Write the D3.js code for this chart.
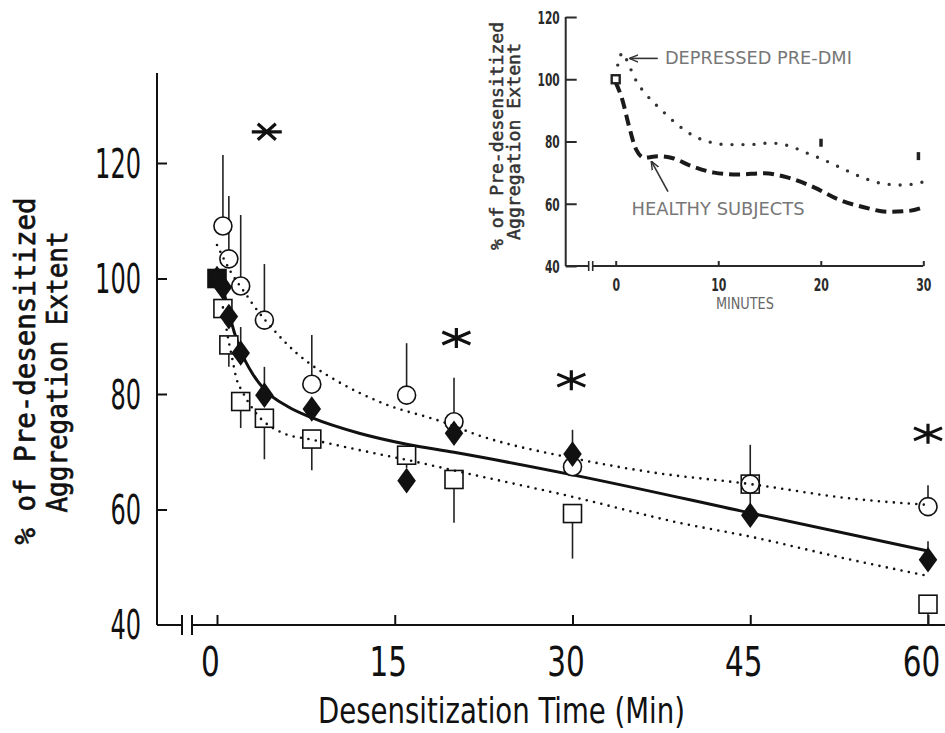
<!DOCTYPE html>
<html>
<head>
<meta charset="utf-8">
<script src="https://cdn.jsdelivr.net/npm/d3@7"></script>
<style>
  body { margin: 0; background: #fff; }
  svg { display: block; }
</style>
</head>
<body>
<svg id="chart" width="945" height="733"></svg>
<script>
// main chart data (minutes, % of pre-desensitized extent)
var circleT = [0.5, 1, 2, 4, 8, 16, 20, 30, 45, 60];
var circleV = [109.1, 103.4, 98.7, 92.8, 81.7, 79.8, 75.2, 67.4, 64.4, 60.5];
var circleHi = [121.4, 114.3, 111, 102.5, 90.2, 88.8, 82.8, 73.8, 71.2, 64.2];

var diamondT = [0, 0.5, 1, 2, 4, 8, 16, 20, 30, 45, 60];
var diamondV = [100, 98.5, 93.4, 87.1, 79.8, 77.4, 65.0, 73.2, 69.6, 59.0, 51.3];
var diamondHi = [null, null, null, 91.6, 84.7, null, null, null, null, null, 54.5];

var squareT = [0, 0.5, 1, 2, 4, 8, 16, 20, 30, 45, 60];
var squareV = [100, 94.8, 88.5, 78.7, 75.8, 72.2, 69.4, 65.2, 59.3, 64.4, 43.6];
var squareLo = [null, null, 84.7, 74.1, 68.7, 66.8, 67.2, 57.7, 51.5, 59.5, 40];

// fitted curves
var solidT = [0.5, 1, 2, 3, 4, 6, 8, 12, 16, 20, 30, 45, 60];
var solidV = [98.5, 94, 87.5, 83.5, 80.8, 77.8, 75.9, 73.2, 71.3, 69.9, 66, 59.4, 52.8];
var upperT = [0, 1.2, 2.5, 3, 5, 6.7, 8, 10, 14, 19, 22, 30, 36.5, 45, 53.5, 60];
var upperV = [105.8, 101, 97.1, 95.6, 90.6, 87.1, 85, 82.4, 78.4, 75.2, 72.9, 68.9, 66.5, 64.4, 61.9, 60.8];
var lowerT = [0.5, 1, 1.3, 1.6, 2.2, 3.1, 5.6, 8, 12, 16, 21, 30, 39, 45, 53.5, 60];
var lowerV = [95, 89, 86, 83, 80.2, 77.2, 73.2, 72.1, 70.3, 68.6, 66.3, 62.2, 57.7, 55.3, 51.3, 48.5];

// significance stars
var starT = [4.2, 20.2, 29.9, 60];
var starV = [125.4, 89.7, 82.4, 73.1];
var starKind = ["h", "v", "v", "v"];

var xTicks = [0, 15, 30, 45, 60];
var yTicks = [40, 60, 80, 100, 120];

// inset data
var depT = [0, 0.3, 0.7, 1.1, 1.5, 2, 3, 4.5, 6, 7.5, 9, 11, 13, 15, 17, 18.5, 20, 22, 24, 26, 28, 30];
var depV = [101, 106, 108.5, 106, 103, 99.5, 95, 90, 85.5, 82, 80, 79, 79, 79.5, 78.5, 76.5, 74.5, 71.5, 68.5, 66.5, 66, 67];
var healthyT = [0, 0.65, 1.3, 2, 2.8, 4.1, 5.4, 7.4, 9.6, 11.9, 14.5, 16.8, 19.4, 21.7, 24.3, 26.6, 28.6, 30.2];
var healthyV = [99, 93.4, 84.9, 77.4, 74.8, 75.3, 74.8, 72.1, 70, 69.4, 69.8, 68.4, 65.2, 61.4, 58.8, 57.4, 57.7, 59.1];
var insetMarkT = [20, 29.5];
var insetMarkV = [79.6, 75.3];
var insetXTicks = [0, 10, 20, 30];
var insetYTicks = [40, 60, 80, 100, 120];

var svg = d3.select("#chart");
var ink = "#111";

// scales
var x = d3.scaleLinear().domain([0, 60]).range([217, 928]);
var y = d3.scaleLinear().domain([40, 120]).range([625, 163]);
var ix = d3.scaleLinear().domain([0, 30]).range([615.7, 923.3]);
var iy = d3.scaleLinear().domain([40, 120]).range([266, 17]);

var narrow = "'Liberation Sans Narrow', 'DejaVu Sans Condensed', sans-serif";
var mono = "'DejaVu Sans Mono', monospace";

function zip(t, v) {
  return t.map((d, i) => ({ t: d, v: v[i] }));
}

// ---------- main axes ----------
var yAxisG = svg.append("g").attr("transform", `translate(${x(0) - 60},0)`);
yAxisG.call(d3.axisLeft(y).tickValues(yTicks.slice(1)).tickSizeInner(-10).tickSizeOuter(0).tickFormat(d3.format("d")));
yAxisG.select(".domain").remove();
yAxisG.selectAll(".tick line").attr("stroke", ink).attr("stroke-width", 2);
yAxisG.append("line")
  .attr("x1", 0).attr("x2", 0)
  .attr("y1", y(135.6)).attr("y2", y(40))
  .attr("stroke", ink).attr("stroke-width", 2);
// 40 label sits at the x axis
yAxisG.append("g").attr("class", "tick").attr("transform", `translate(0,${y(40)})`)
  .append("text").text("40");
yAxisG.selectAll(".tick text")
  .attr("x", -16).attr("dy", "0.35em")
  .attr("text-anchor", "end")
  .attr("fill", ink)
  .style("font-family", narrow).style("font-size", "41px")
  .attr("textLength", function () { return this.textContent.length * 15.3; })
  .attr("lengthAdjust", "spacingAndGlyphs");

var xAxisG = svg.append("g").attr("transform", `translate(0,${y(40)})`);
xAxisG.call(d3.axisBottom(x).tickValues(xTicks).tickSizeInner(-10).tickSizeOuter(0).tickFormat(d3.format("d")));
xAxisG.select(".domain").remove();
xAxisG.selectAll(".tick line").attr("stroke", ink).attr("stroke-width", 2);
// labels squeezed horizontally to match the narrow lettering
xAxisG.selectAll(".tick text")
  .attr("y", 51).attr("dy", 0).attr("x", -7 / 0.8)
  .attr("transform", "scale(0.8,1)")
  .attr("fill", ink)
  .style("font-family", narrow).style("font-size", "41px");
// axis line with break
var axisX0 = x(0) - 60;
xAxisG.append("line").attr("x1", axisX0).attr("x2", axisX0 + 25).attr("y1", 0).attr("y2", 0)
  .attr("stroke", ink).attr("stroke-width", 2);
xAxisG.append("line").attr("x1", axisX0 + 35).attr("x2", 945).attr("y1", 0).attr("y2", 0)
  .attr("stroke", ink).attr("stroke-width", 2);
[25, 35].forEach((dx) => {
  xAxisG.append("line").attr("x1", axisX0 + dx).attr("x2", axisX0 + dx)
    .attr("y1", -10).attr("y2", 10).attr("stroke", ink).attr("stroke-width", 2);
});

// axis titles
svg.append("text")
  .attr("x", 318).attr("y", 723)
  .attr("textLength", 367).attr("lengthAdjust", "spacingAndGlyphs")
  .style("font-family", narrow).style("font-size", "36px").attr("fill", ink)
  .text("Desensitization Time (Min)");

var yTitle = [
  { text: "% of Pre-desensitized", x: 35, cy: 371, len: 347 },
  { text: "Aggregation Extent", x: 67, cy: 372, len: 281 },
];
svg.selectAll(".ytitle").data(yTitle).enter().append("text")
  .attr("class", "ytitle")
  .attr("transform", (d) => `translate(${d.x},${d.cy}) rotate(-90)`)
  .attr("text-anchor", "middle")
  .attr("textLength", (d) => d.len).attr("lengthAdjust", "spacingAndGlyphs")
  .style("font-family", mono).style("font-size", "28px")
  .attr("fill", ink).attr("stroke", ink).attr("stroke-width", 0.7)
  .text((d) => d.text);

// ---------- main marks ----------
var errG = svg.append("g").attr("stroke", "#222").attr("stroke-width", 1.6);
errG.selectAll(".ec").data(zip(circleT, circleV).map((d, i) => ({ t: d.t, v: d.v, e: circleHi[i] })))
  .enter().append("line")
  .attr("x1", (d) => x(d.t)).attr("x2", (d) => x(d.t))
  .attr("y1", (d) => y(d.v) - 9).attr("y2", (d) => y(d.e));
errG.selectAll(".es").data(zip(squareT, squareV).map((d, i) => ({ t: d.t, v: d.v, e: squareLo[i] })).filter((d) => d.e != null))
  .enter().append("line")
  .attr("x1", (d) => x(d.t)).attr("x2", (d) => x(d.t))
  .attr("y1", (d) => y(d.v) + 9).attr("y2", (d) => y(d.e));
errG.selectAll(".ed").data(zip(diamondT, diamondV).map((d, i) => ({ t: d.t, v: d.v, e: diamondHi[i] })).filter((d) => d.e != null))
  .enter().append("line")
  .attr("x1", (d) => x(d.t)).attr("x2", (d) => x(d.t))
  .attr("y1", (d) => y(d.v)).attr("y2", (d) => y(d.e));

var line = d3.line().x((d) => x(d.t)).y((d) => y(d.v)).curve(d3.curveMonotoneX);

svg.append("path").datum(zip(solidT, solidV))
  .attr("d", line).attr("fill", "none").attr("stroke", ink).attr("stroke-width", 3);

svg.selectAll(".sq").data(zip(squareT, squareV)).enter().append("rect")
  .attr("x", (d) => x(d.t) - 9).attr("y", (d) => y(d.v) - 9)
  .attr("width", 18).attr("height", 18)
  .attr("fill", (d, i) => (i == 0 ? ink : "#fff"))
  .attr("stroke", ink).attr("stroke-width", 1.6);

svg.selectAll(".ci").data(zip(circleT, circleV)).enter().append("circle")
  .attr("cx", (d) => x(d.t)).attr("cy", (d) => y(d.v)).attr("r", 9)
  .attr("fill", "#fff").attr("stroke", ink).attr("stroke-width", 1.6);

[zip(upperT, upperV), zip(lowerT, lowerV)].forEach((pts) => {
  svg.append("path").datum(pts)
    .attr("d", line).attr("fill", "none").attr("stroke", ink)
    .attr("stroke-width", 2.6).attr("stroke-linecap", "round")
    .attr("stroke-dasharray", "0,7.5");
});

var diamond = d3.symbol().type(d3.symbolDiamond).size(190);
svg.selectAll(".di").data(zip(diamondT, diamondV)).enter().append("path")
  .attr("d", diamond)
  .attr("transform", (d) => `translate(${x(d.t)},${y(d.v)}) scale(1.25,1)`)
  .attr("fill", ink);

// stars
function starPath(kind) {
  var p = d3.path();
  if (kind == "h") {
    p.moveTo(-15, 0); p.lineTo(15, 0);
    p.moveTo(-9, -8); p.lineTo(9, 8);
    p.moveTo(-9, 8); p.lineTo(9, -8);
  } else {
    p.moveTo(0, -10); p.lineTo(0, 10);
    p.moveTo(-14, -6); p.lineTo(14, 6);
    p.moveTo(-14, 6); p.lineTo(14, -6);
  }
  return p.toString();
}
svg.selectAll(".star").data(starT.map((t, i) => ({ t: t, v: starV[i], k: starKind[i] })))
  .enter().append("path")
  .attr("d", (d) => starPath(d.k))
  .attr("transform", (d) => `translate(${x(d.t)},${y(d.v)})`)
  .attr("stroke", ink).attr("stroke-width", 3.2).attr("fill", "none");

// ---------- inset ----------
var inset = svg.append("g");
var insetInk = "#2a2a2a";
var insetAxisX = ix(0) - 50;

var iyG = inset.append("g").attr("transform", `translate(${insetAxisX},0)`);
iyG.call(d3.axisLeft(iy).tickValues(insetYTicks).tickSizeInner(-11).tickSizeOuter(0).tickFormat(d3.format("d")));
iyG.select(".domain").remove();
iyG.selectAll(".tick line").attr("stroke", insetInk).attr("stroke-width", 2);
iyG.append("line").attr("x1", 0).attr("x2", 0).attr("y1", iy(120)).attr("y2", iy(40))
  .attr("stroke", insetInk).attr("stroke-width", 2);
iyG.selectAll(".tick text")
  .attr("x", -6).attr("dy", "0.35em").attr("text-anchor", "end").attr("fill", insetInk)
  .style("font-family", narrow).style("font-size", "18px").style("font-weight", "bold")
  .attr("textLength", function () { return this.textContent.length * 7.4; })
  .attr("lengthAdjust", "spacingAndGlyphs");

var ixG = inset.append("g").attr("transform", `translate(0,${iy(40)})`);
ixG.call(d3.axisBottom(ix).tickValues(insetXTicks).tickSizeInner(-5).tickSizeOuter(0).tickFormat(d3.format("d")));
ixG.select(".domain").remove();
ixG.selectAll(".tick line").attr("stroke", insetInk).attr("stroke-width", 2);
ixG.selectAll(".tick text")
  .attr("y", 25).attr("dy", 0).attr("fill", insetInk)
  .style("font-family", narrow).style("font-size", "18px").style("font-weight", "bold")
  .attr("textLength", function () { return this.textContent.length * 7.6; })
  .attr("lengthAdjust", "spacingAndGlyphs");
ixG.append("line").attr("x1", insetAxisX).attr("x2", insetAxisX + 23).attr("y1", 0).attr("y2", 0)
  .attr("stroke", insetInk).attr("stroke-width", 2);
ixG.append("line").attr("x1", insetAxisX + 27).attr("x2", ix(30)).attr("y1", 0).attr("y2", 0)
  .attr("stroke", insetInk).attr("stroke-width", 2);
[23, 27].forEach((dx) => {
  ixG.append("line").attr("x1", insetAxisX + dx).attr("x2", insetAxisX + dx)
    .attr("y1", -5).attr("y2", 5).attr("stroke", insetInk).attr("stroke-width", 1.6);
});

inset.append("text")
  .attr("x", ix(12.6)).attr("y", 309)
  .attr("text-anchor", "middle")
  .attr("textLength", 58).attr("lengthAdjust", "spacingAndGlyphs")
  .style("font-family", narrow).style("font-size", "15px").attr("fill", "#666")
  .text("MINUTES");

var insetTitle = [
  { text: "% of Pre-desensitized", x: 503, cy: 136, len: 228 },
  { text: "Aggregation Extent", x: 520, cy: 141.5, len: 197 },
];
inset.selectAll(".ititle").data(insetTitle).enter().append("text")
  .attr("transform", (d) => `translate(${d.x},${d.cy}) rotate(-90)`)
  .attr("text-anchor", "middle")
  .attr("textLength", (d) => d.len).attr("lengthAdjust", "spacingAndGlyphs")
  .style("font-family", mono).style("font-size", "17px")
  .attr("fill", "#333").attr("stroke", "#333").attr("stroke-width", 0.5)
  .text((d) => d.text);

var iline = d3.line().x((d) => ix(d.t)).y((d) => iy(d.v)).curve(d3.curveMonotoneX);
inset.append("path").datum(zip(depT, depV))
  .attr("d", iline).attr("fill", "none").attr("stroke", "#333")
  .attr("stroke-width", 3.4).attr("stroke-linecap", "round").attr("stroke-dasharray", "0,11");
inset.append("path").datum(zip(healthyT, healthyV))
  .attr("d", iline).attr("fill", "none").attr("stroke", "#1a1a1a")
  .attr("stroke-width", 4).attr("stroke-dasharray", "11,6");

inset.append("rect")
  .attr("x", ix(0) - 4).attr("y", iy(100) - 4).attr("width", 8).attr("height", 8)
  .attr("fill", "#fff").attr("stroke", "#222").attr("stroke-width", 2.4);
inset.selectAll(".imark").data(zip(insetMarkT, insetMarkV)).enter().append("rect")
  .attr("x", (d) => ix(d.t) - 1.5).attr("y", (d) => iy(d.v) - 4)
  .attr("width", 3.5).attr("height", 8).attr("fill", "#222");

// annotations
svg.append("defs").append("marker")
  .attr("id", "arrow").attr("viewBox", "0 0 10 10").attr("refX", 9).attr("refY", 5)
  .attr("markerWidth", 9).attr("markerHeight", 9).attr("orient", "auto")
  .attr("markerUnits", "userSpaceOnUse")
  .append("path").attr("d", "M0,1 L10,5 L0,9").attr("fill", "none")
  .attr("stroke", "#333").attr("stroke-width", 1.6);

var notes = [
  { text: "DEPRESSED PRE-DMI", t: 4.8, v: 106.7, len: 187, at: 4.1, av: 106.7, bt: 1.4, bv: 106.7 },
  { text: "HEALTHY SUBJECTS", t: 1.55, v: 58.2, len: 173, at: 5.1, av: 63.9, bt: 3.5, bv: 73.5 },
];
inset.selectAll(".note").data(notes).enter().append("text")
  .attr("x", (d) => ix(d.t)).attr("y", (d) => iy(d.v)).attr("dy", "0.35em")
  .attr("textLength", (d) => d.len).attr("lengthAdjust", "spacingAndGlyphs")
  .style("font-family", narrow).style("font-size", "17px").attr("fill", "#777")
  .text((d) => d.text);
inset.selectAll(".noteArrow").data(notes).enter().append("line")
  .attr("x1", (d) => ix(d.at)).attr("y1", (d) => iy(d.av))
  .attr("x2", (d) => ix(d.bt)).attr("y2", (d) => iy(d.bv))
  .attr("stroke", "#333").attr("stroke-width", 1.6)
  .attr("marker-end", "url(#arrow)");
</script>
</body>
</html>
